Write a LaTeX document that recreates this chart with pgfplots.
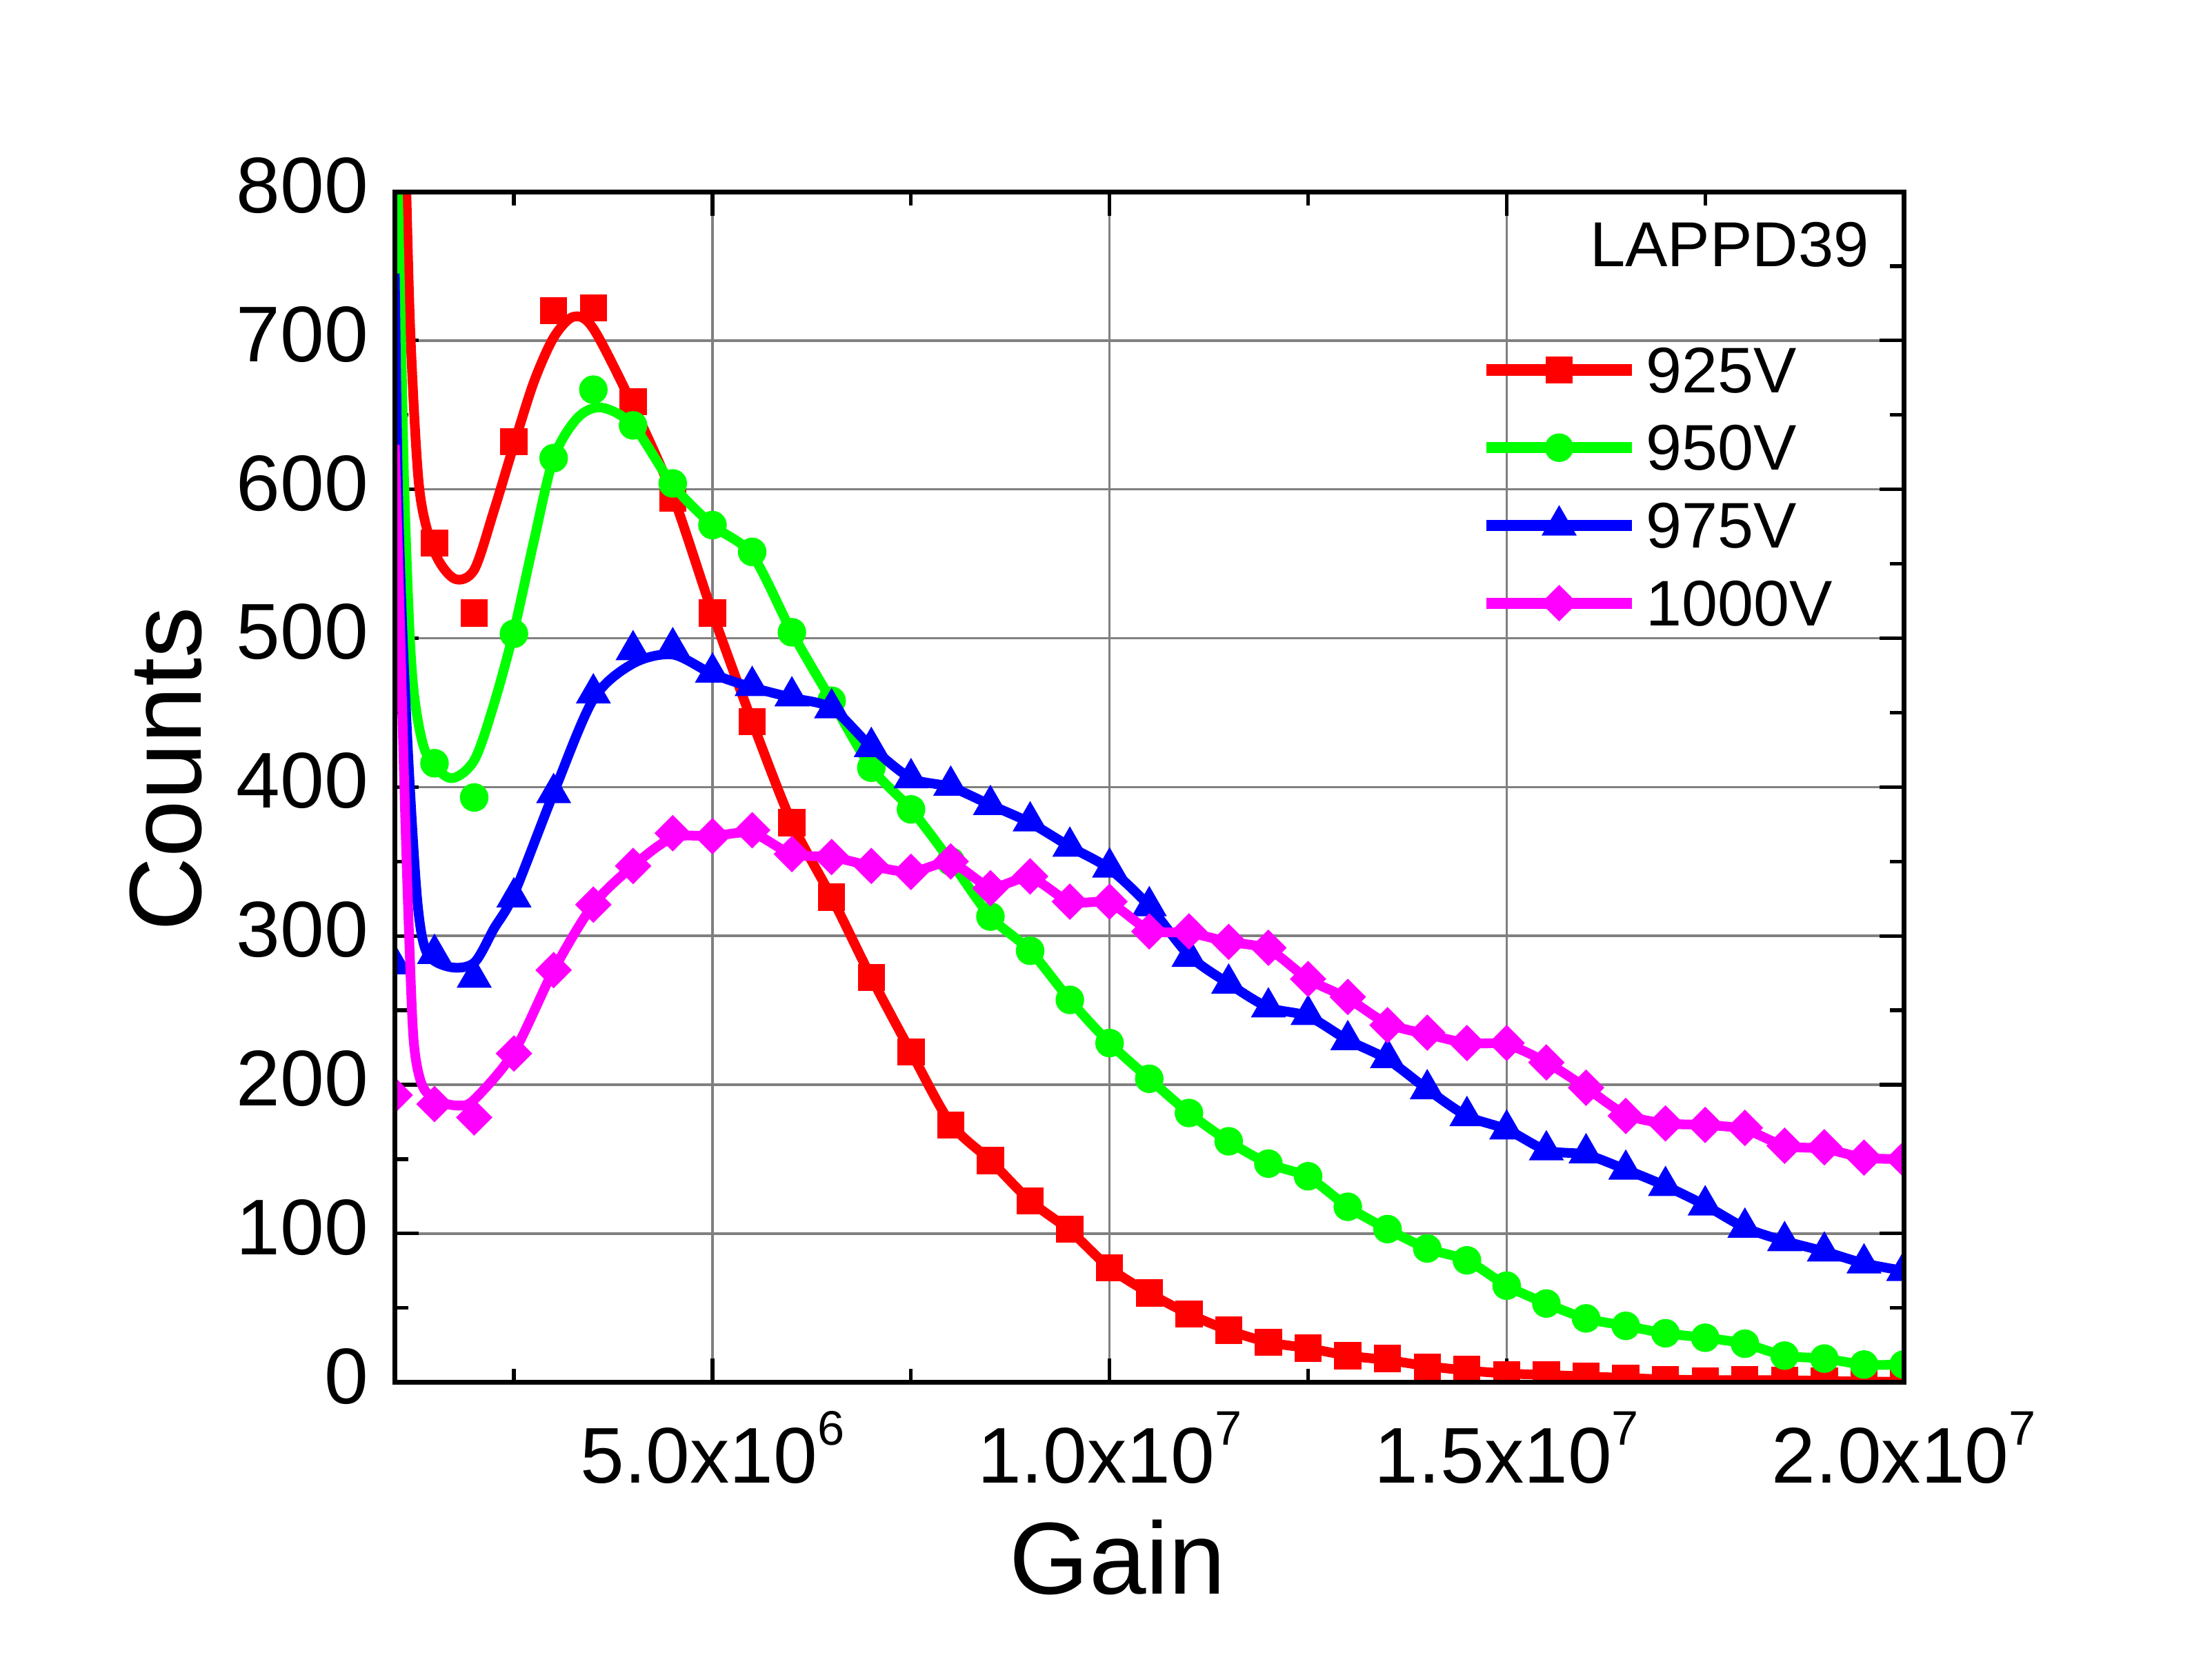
\documentclass[border=0pt]{standalone}
\usepackage{fontspec}
\setmainfont{Liberation Sans}
\usepackage{pgfplots}
\pgfplotsset{compat=1.18}
\usepackage{pgfplotstable}

\definecolor{cR}{RGB}{255,0,0}
\definecolor{cG}{RGB}{0,255,0}
\definecolor{cB}{RGB}{0,0,255}
\definecolor{cM}{RGB}{255,0,255}

% ---------- markers (x in units of 1e6) ----------
\pgfplotstableread{
x y
1.5 564
2.0 517
2.5 632
3.0 720
3.5 722
4.0 659
4.5 594
5.0 517
5.5 444
6.0 376
6.5 326
7.0 272
7.5 222
8.0 173
8.5 149
9.0 122
9.5 103
10.0 77
10.5 60
11.0 46
11.5 35
12.0 27
12.5 23
13.0 18
13.5 16
14.0 10
14.5 9
15.0 5
15.5 5
16.0 4
16.5 3
17.0 2
17.5 1
18.0 2
18.5 1.5
19.0 1
19.5 0.5
20.0 0.5
}\redmk

\pgfplotstableread{
x y
1.5 416
2.0 393
2.5 503
3.0 621
3.5 667
4.0 643
4.5 604
5.0 576
5.5 558
6.0 504
6.5 458
7.0 413
7.5 385
8.0 350
8.5 313
9.0 290
9.5 257
10.0 228
10.5 204
11.0 181
11.5 162
12.0 147
12.5 138.5
13.0 118
13.5 103
14.0 90
14.5 82
15.0 65
15.5 53
16.0 43
16.5 38
17.0 33
17.5 30
18.0 26
18.5 18
19.0 16
19.5 12
20.0 12
}\greenmk

\pgfplotstableread{
x y
1.0 281
1.5 288
2.0 272
2.5 326
3.0 396
3.5 463
4.0 492
4.5 494
5.0 477
5.5 468
6.0 461
6.5 453
7.0 427
7.5 406
8.0 401
8.5 388
9.0 377
9.5 360
10.0 346
10.5 320
11.0 286
11.5 268
12.0 252
12.5 247
13.0 230
13.5 218
14.0 197
14.5 179
15.0 170
15.5 156
16.0 154
16.5 143
17.0 132
17.5 119
18.0 104
18.5 95
19.0 88
19.5 80
20.0 75
}\bluemk

\pgfplotstableread{
x y
1.0 193
1.5 187
2.0 178
2.5 221
3.0 277
3.5 321
4.0 347
4.5 369
5.0 367
5.5 371
6.0 355
6.5 353
7.0 347
7.5 343
8.0 350
8.5 332
9.0 340
9.5 323
10.0 323
10.5 303
11.0 303
11.5 296
12.0 292
12.5 271
13.0 259
13.5 240
14.0 235
14.5 228
15.0 228
15.5 215
16.0 198
16.5 179
17.0 174
17.5 173
18.0 171
18.5 159
19.0 158
19.5 151
20.0 150
}\magmk

% ---------- smoothed curves ----------
\pgfplotstableread{
x y
1.0 1180
1.1 895
1.145 800
1.2 700
1.31 600
1.5 558
1.75 540
2.0 546
2.25 586
2.5 630
2.75 672
3.0 702
3.25 716
3.5 708
4.0 656
4.5 596
5.0 517
5.5 444
6.0 376
6.5 326
7.0 272
7.5 222
8.0 174
8.5 149
9.0 122
9.5 102
10.0 77
10.5 60
11.0 46
11.5 35
12.0 27
12.5 23
13.0 18
13.5 15
14.0 11
14.5 8
15.0 6
15.5 5
16.0 4
16.5 3
17.0 2
17.5 1.5
18.0 1.5
18.5 1.5
19.0 1
19.5 0.5
20.0 0.5
}\redln

\pgfplotstableread{
x y
1.0 920
1.04 800
1.08 700
1.12 600
1.19 500
1.26 455
1.4 422
1.7 406
2.0 418
2.25 456
2.5 505
2.75 565
3.0 621
3.3 648
3.6 655
4.0 643
4.5 603
5.0 576
5.5 556
6.0 504
6.5 458
7.0 413
7.5 385
8.0 350
8.5 313
9.0 290
9.5 257
10.0 228
10.5 204
11.0 181
11.5 162
12.0 147
12.5 138
13.0 118
13.5 103
14.0 90
14.5 82
15.0 65
15.5 53
16.0 43
16.5 38
17.0 33
17.5 30
18.0 26
18.5 18
19.0 16
19.5 12
20.0 12
}\greenln

\pgfplotstableread{
x y
1.0 745
1.04 600
1.1 500
1.19 400
1.29 320
1.41 288
1.7 279
2.0 282
2.25 305
2.5 328
3.0 396
3.5 459
4.0 483
4.5 489
5.0 476
5.5 467
6.0 460
6.5 453
7.0 427
7.5 406
8.0 400
8.5 388
9.0 376
9.5 360
10.0 345
10.5 320
11.0 287
11.5 268
12.0 252
12.5 246
13.0 230
13.5 217
14.0 197
14.5 179
15.0 170
15.5 156
16.0 153
16.5 143
17.0 132
17.5 119
18.0 104
18.5 95
19.0 88
19.5 80
20.0 75
}\blueln

\pgfplotstableread{
x y
1.0 630
1.07 500
1.12 400
1.18 300
1.24 228
1.35 199
1.55 189
1.8 186
2.0 190
2.5 222
3.0 277
3.5 321
4.0 347
4.5 366
5.0 367
5.5 369
6.0 355
6.5 353
7.0 347
7.5 343
8.0 349
8.5 333
9.0 339
9.5 323
10.0 322
10.5 304
11.0 302
11.5 296
12.0 291
12.5 271
13.0 258
13.5 241
14.0 234
14.5 228
15.0 227
15.5 215
16.0 198
16.5 180
17.0 174
17.5 173
18.0 170
18.5 159
19.0 157
19.5 151
20.0 150
}\magln

\newcommand\sups[1]{\raisebox{0.48em}{\fontsize{10}{12}\selectfont #1}}

\pgfplotsset{
  curve/.style={color=#1, line width=2pt, smooth, tension=0.5, no markers, forget plot},
  legimg/.style={legend image code/.code={
     \draw[#1, line width=2.3pt, line cap=butt] (0cm,0.025cm) -- (1.06cm,0.025cm);
     \draw[##1] plot coordinates {(0.53cm,0.025cm)};
  }},
}

\begin{document}
\begin{tikzpicture}
\begin{axis}[
  name=ax, at={(0,0)}, anchor=south west, scale only axis,
  width=10.94cm, height=8.635cm,
  xmin=1, xmax=20, ymin=0, ymax=800,
  xtick={5,10,15,20},
  xticklabels={5.0x10\sups{6},1.0x10\sups{7},1.5x10\sups{7},2.0x10\sups{7}},
  minor xtick={2.5,7.5,12.5,17.5},
  ytick={0,100,...,800},
  minor ytick={50,150,...,750},
  tick align=inside,
  major tick length=0.175cm, minor tick length=0.1cm,
  tick style={black, line width=0.75pt},
  grid=major,
  major grid style={gray, line width=0.5pt},
  axis line style={line width=1pt},
  tick label style={font=\fontsize{16.3}{19}\selectfont},
  /pgf/number format/assume math mode=true,
  yticklabel style={anchor=east, inner sep=0pt, xshift=-0.185cm, yshift=0.045cm},
  xticklabel style={anchor=base, inner sep=0pt, yshift=-0.73cm},
  xlabel={Gain}, ylabel={Counts},
  label style={font=\fontsize{21.1}{25}\selectfont, inner sep=0pt},
  xlabel style={at={(rel axis cs:0.479,-0.1778)}, anchor=base},
  ylabel style={at={(rel axis cs:-0.1285,0.515)}, anchor=base},
  clip marker paths=true,
  legend cell align=left,
  legend style={at={(rel axis cs:0.7195,0.8773)}, anchor=north west,
    draw=none, fill=none, inner sep=0pt, outer sep=0pt,
    row sep=0.0465cm, column sep=0.06cm,
    font=\fontsize{13.3}{16}\selectfont,
    column 2/.style={nodes={fill=white}},
    nodes={inner xsep=0pt, inner ysep=0pt, text height=0.397cm, text depth=0.12cm}},
]
\addplot[curve=cR] table {\redln};
\addplot[only marks, color=cR, mark=square*, mark size=0.095cm,
  mark options={line width=0.2pt}, legimg=cR] table {\redmk};
\addlegendentry{925V}

\addplot[curve=cG] table {\greenln};
\addplot[only marks, color=cG, mark=*, mark size=0.1cm,
  mark options={line width=0.2pt}, legimg=cG] table {\greenmk};
\addlegendentry{950V}

\addplot[curve=cB] table {\blueln};
\addplot[only marks, color=cB, mark=triangle*, mark size=0.14cm,
  mark options={line width=0.2pt}, legimg=cB] table {\bluemk};
\addlegendentry{975V}

\addplot[curve=cM] table {\magln};
\addplot[only marks, color=cM, mark=square*, mark size=0.09cm,
  mark options={rotate=45, line width=0.2pt}, legimg=cM] table {\magmk};
\addlegendentry{1000V}

\node[anchor=base east, inner sep=0pt, font=\fontsize{13.1}{16}\selectfont]
  at (rel axis cs:0.9776,0.9369) {LAPPD39};
\end{axis}
\draw[line width=1pt] (ax.south west) rectangle (ax.north east);
\pgfresetboundingbox
\path (-2.8625cm,-1.975cm) rectangle (13.175cm,10.025cm);
\end{tikzpicture}
\end{document}
